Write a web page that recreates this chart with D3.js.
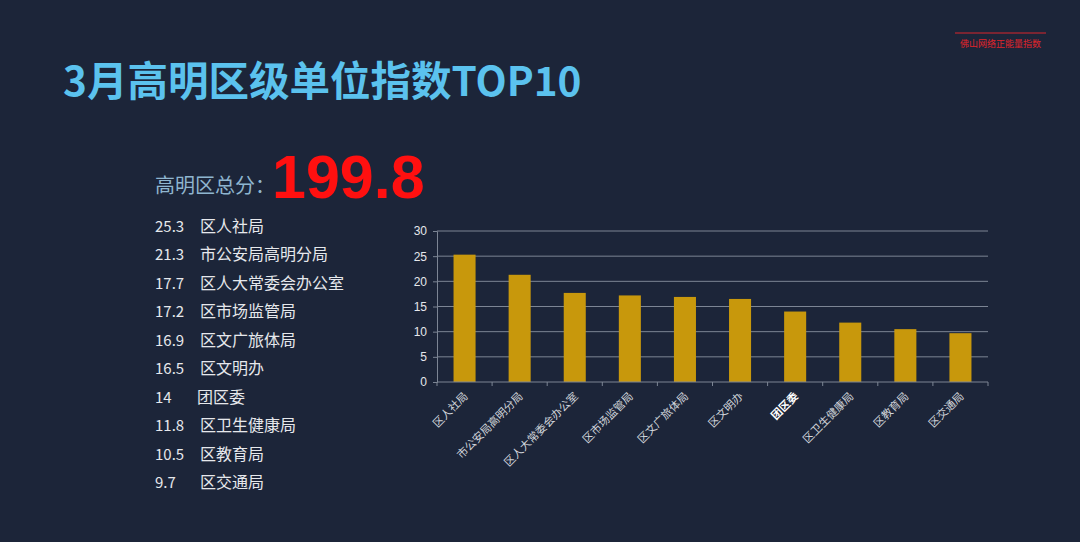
<!DOCTYPE html>
<html>
<head>
<meta charset="utf-8">
<script src="https://cdn.jsdelivr.net/npm/d3@7"></script>
<style>
  html, body { margin: 0; padding: 0; background: #1c2539; }
  svg { display: block; font-family: "Noto Sans CJK SC", "Noto Sans", sans-serif; }
</style>
</head>
<body>
<svg id="chart" width="1080" height="542"></svg>
<script>
const units = ["区人社局", "市公安局高明分局", "区人大常委会办公室", "区市场监管局", "区文广旅体局",
  "区文明办", "团区委", "区卫生健康局", "区教育局", "区交通局"];
const scores = [25.3, 21.3, 17.7, 17.2, 16.9, 16.5, 14, 11.8, 10.5, 9.7];
const scoreLabels = ["25.3", "21.3", "17.7", "17.2", "16.9", "16.5", "14", "11.8", "10.5", "9.7"];
const yTicks = [0, 5, 10, 15, 20, 25, 30];
const totalScore = "199.8";
const highlight = "团区委";

const svg = d3.select("#chart");
svg.append("rect").attr("width", 1080).attr("height", 542).attr("fill", "#1c2539");

// Top-right brand mark
svg.append("line")
  .attr("x1", 955).attr("x2", 1046).attr("y1", 33).attr("y2", 33)
  .attr("stroke", "#d9262c").attr("stroke-width", 1);
svg.append("text")
  .attr("x", 960).attr("y", 47)
  .attr("fill", "#e0242b").attr("font-size", 9)
  .text("佛山网络正能量指数");

// Title
svg.append("text")
  .attr("x", 63).attr("y", 96)
  .attr("fill", "#5bc2ee").attr("font-size", 40.5).attr("font-weight", "bold")
  .text("3月高明区级单位指数TOP10");

// Total
svg.append("text")
  .attr("x", 155).attr("y", 193)
  .attr("fill", "#8fb5cf").attr("font-size", 20)
  .text("高明区总分：");
svg.append("text")
  .attr("x", 272).attr("y", 198)
  .attr("fill", "#ff1010").attr("font-size", 61).attr("font-weight", "bold")
  .attr("font-family", "Liberation Sans, Arial, sans-serif")
  .text(totalScore);

// Ranking list
const list = svg.append("g");
const rowY = d3.scalePoint().domain(units).range([232, 488]);
list.selectAll("text.val").data(units).join("text")
  .attr("class", "val")
  .attr("x", 155).attr("y", d => rowY(d))
  .attr("fill", "#e6e8ec").attr("font-size", 15)
  .text((d, i) => scoreLabels[i]);
list.selectAll("text.name").data(units).join("text")
  .attr("class", "name")
  .attr("x", d => d === highlight ? 197 : 200).attr("y", d => rowY(d))
  .attr("fill", "#e6e8ec").attr("font-size", 16)
  .text(d => d);

// Bar chart
const plotLeft = 437, plotRight = 988, plotTop = 231, plotBottom = 382;
const x = d3.scaleBand().domain(units).range([plotLeft, plotRight]).paddingInner(0.6).paddingOuter(0.3);
const y = d3.scaleLinear().domain([0, 30]).range([plotBottom, plotTop]);

const grid = svg.append("g");
grid.selectAll("line").data(yTicks.filter(t => t > 0)).join("line")
  .attr("x1", plotLeft).attr("x2", plotRight)
  .attr("y1", d => y(d)).attr("y2", d => y(d))
  .attr("stroke", "#7c8594").attr("stroke-width", 1);

const yAxis = svg.append("g")
  .attr("transform", `translate(${plotLeft},0)`)
  .call(d3.axisLeft(y).tickValues(yTicks).tickSize(4).tickPadding(6));
yAxis.select(".domain").attr("stroke", "#7c8594");
yAxis.selectAll(".tick line").attr("stroke", "#7c8594");
yAxis.selectAll(".tick text").attr("fill", "#e6e8ec").attr("font-size", 12)
  .attr("font-family", "Liberation Sans, Arial, sans-serif");

svg.append("g").selectAll("rect").data(units).join("rect")
  .attr("x", d => x(d))
  .attr("width", x.bandwidth())
  .attr("y", (d, i) => y(scores[i]))
  .attr("height", (d, i) => plotBottom - y(scores[i]))
  .attr("fill", "#c8980c");

// X axis with ticks between categories
const xAxis = svg.append("g").attr("transform", `translate(0,${plotBottom})`);
xAxis.append("line").attr("x1", plotLeft).attr("x2", plotRight)
  .attr("stroke", "#7c8594").attr("stroke-width", 1);
const bounds = d3.range(units.length + 1).map(i => plotLeft + (plotRight - plotLeft) * i / units.length);
xAxis.selectAll("line.tk").data(bounds).join("line")
  .attr("class", "tk")
  .attr("x1", d => d).attr("x2", d => d).attr("y1", 0).attr("y2", 4)
  .attr("stroke", "#7c8594");
xAxis.selectAll("text").data(units).join("text")
  .attr("transform", d => `translate(${x(d) + x.bandwidth() / 2 + 4},${15}) rotate(-45)`)
  .attr("text-anchor", "end")
  .attr("fill", d => d === highlight ? "#ffffff" : "#d0d4da")
  .attr("font-weight", d => d === highlight ? "bold" : "normal")
  .attr("font-size", 11)
  .text(d => d);
</script>
</body>
</html>
